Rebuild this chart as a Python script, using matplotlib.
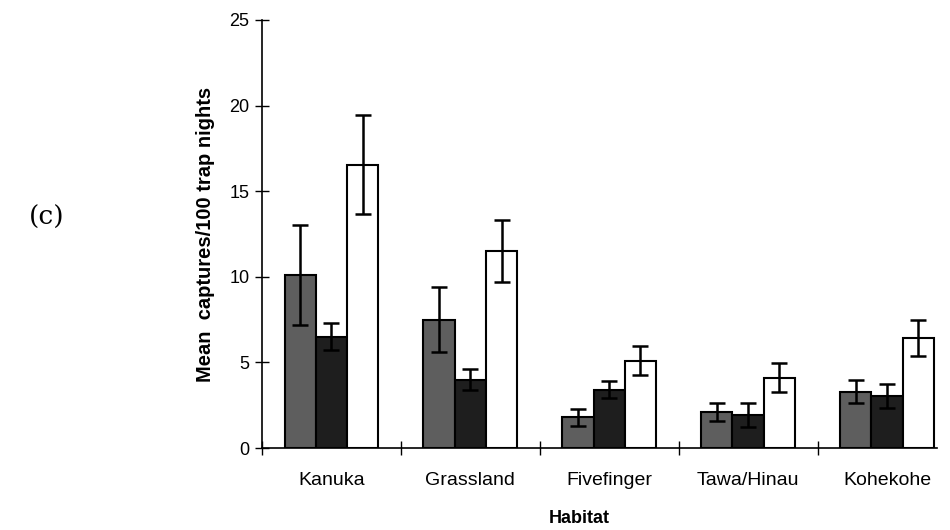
import matplotlib
matplotlib.use('Agg')
import matplotlib.pyplot as plt
import numpy as np

habitats = ['Kanuka', 'Grassland', 'Fivefinger', 'Tawa/Hinau', 'Kohekohe']
grey_vals = [10.1, 7.5, 1.8, 2.1, 3.3]
grey_err = [2.9, 1.9, 0.5, 0.5, 0.65]
black_vals = [6.5, 4.0, 3.4, 1.95, 3.05]
black_err = [0.8, 0.6, 0.5, 0.7, 0.7]
white_vals = [16.55, 11.5, 5.1, 4.1, 6.4]
white_err = [2.9, 1.8, 0.85, 0.85, 1.05]

plt.rcParams['font.family'] = ['Liberation Sans', 'DejaVu Sans']

fig = plt.figure(figsize=(9.5, 5.3), dpi=100)
ax = fig.add_axes([0.2758, 0.1547, 0.7105, 0.8076])

x = np.arange(len(habitats))
w = 0.225
series = [(grey_vals, grey_err, '#5e5e5e'),
          (black_vals, black_err, '#1e1e1e'),
          (white_vals, white_err, 'white')]
for i, (vals, err, col) in enumerate(series):
    ax.bar(x + (i - 1) * w, vals, w, color=col, edgecolor='black', linewidth=1.5,
           yerr=err, error_kw=dict(ecolor='black', elinewidth=1.8, capsize=6, capthick=1.8))

ax.set_xlim(-0.5, 4.36)
ax.set_ylim(0, 25)
ax.set_yticks([0, 5, 10, 15, 20, 25])
# separator ticks between habitats, labels centred under each group
ax.set_xticks(np.arange(-0.5, 4.0, 1.0))
ax.set_xticklabels([])
ax.set_xticks(x, minor=True)
ax.set_xticklabels(habitats, minor=True, fontsize=14)
ax.tick_params(axis='x', which='minor', length=0, pad=17)
ax.tick_params(axis='x', which='major', direction='inout', length=10, width=1)
ax.tick_params(axis='y', direction='inout', length=10, width=1, labelsize=13, pad=4)

for s in ['top', 'right']:
    ax.spines[s].set_visible(False)
ax.spines['left'].set_linewidth(1.2)
ax.spines['bottom'].set_linewidth(1.2)

ax.set_ylabel('Mean  captures/100 trap nights', fontsize=14.5, fontweight='bold', labelpad=10)
ax.set_xlabel('Habitat', fontsize=13, fontweight='bold')
ax.xaxis.set_label_coords(0.47, -0.145)

fig.text(0.03, 0.59, '(c)', fontsize=19, family='DejaVu Serif', va='center')

fig.savefig('out.png', dpi=100)
